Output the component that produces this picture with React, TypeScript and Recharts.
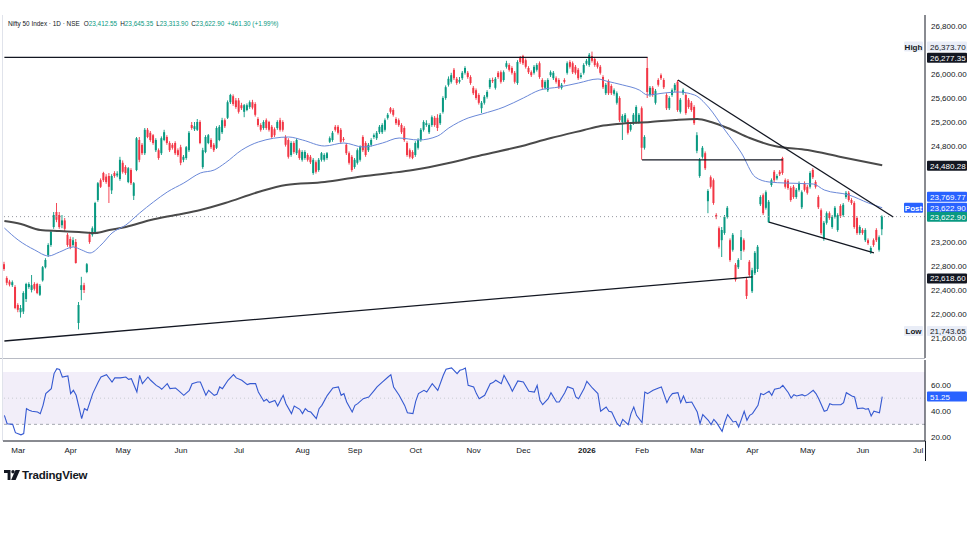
import React from "react";
import {
  ComposedChart,
  Bar,
  Line,
  XAxis,
  YAxis,
  ReferenceLine,
  ReferenceArea,
} from "recharts";

// daily candles [open, high, low, close]
const candles: [number, number, number, number][] = [
  [22830, 22870, 22720, 22750], [22600, 22630, 22480, 22520], [22540, 22570, 22460, 22490], [22480, 22560, 22450, 22530],
  [22450, 22480, 22080, 22100], [22150, 22180, 22030, 22070], [22030, 22150, 21940, 22100], [22040, 22380, 22000, 22350],
  [22250, 22520, 22200, 22500], [22450, 22530, 22420, 22500], [22400, 22650, 22360, 22480], [22500, 22530, 22390, 22420],
  [22500, 22520, 22330, 22350], [22320, 22500, 22300, 22470], [22560, 22800, 22540, 22780], [22780, 22930, 22760, 22900],
  [22980, 23180, 22950, 23150], [23150, 23400, 23120, 23370], [23450, 23700, 23420, 23650], [23700, 23850, 23530, 23570],
  [23650, 23700, 23420, 23450], [23480, 23650, 23430, 23560], [23560, 23600, 23380, 23420], [23320, 23350, 23120, 23150],
  [23250, 23290, 23080, 23120], [23150, 23280, 23120, 23230], [23200, 23250, 22840, 22850], [21850, 22200, 21743.65, 22150],
  [22400, 22620, 22230, 22480], [22480, 22520, 22350, 22400], [22700, 22850, 22680, 22830], [23330, 23370, 23170, 23200],
  [23320, 23460, 23290, 23430], [23350, 23870, 23330, 23850], [23900, 24200, 23870, 24180], [24230, 24260, 24100, 24120],
  [24350, 24370, 24200, 24230], [24290, 24330, 24170, 24200], [24300, 24350, 23850, 24120], [24060, 24330, 24000, 24300],
  [24350, 24380, 24270, 24300], [24310, 24380, 24280, 24340], [24250, 24620, 24220, 24570], [24520, 24560, 24340, 24370],
  [24450, 24480, 24320, 24350], [24200, 24450, 24180, 24430], [24400, 24430, 24150, 24180], [23970, 24200, 23900, 24180],
  [24400, 24950, 24380, 24930], [24900, 24950, 24530, 24570], [24820, 24850, 24650, 24680], [24680, 25100, 24650, 25070],
  [25070, 25100, 24930, 24950], [25020, 25050, 24870, 24900], [24980, 25000, 24820, 24850], [24730, 24930, 24700, 24900],
  [24730, 24760, 24570, 24600], [24680, 24960, 24650, 24930], [24900, 25070, 24880, 25030], [24950, 24980, 24820, 24850],
  [24850, 24880, 24700, 24730], [24820, 24850, 24740, 24770], [24850, 24880, 24650, 24680], [24730, 24760, 24620, 24650],
  [24780, 24820, 24480, 24520], [24570, 24650, 24530, 24620], [24600, 24800, 24570, 24780], [24730, 25050, 24700, 25020],
  [25150, 25200, 25070, 25100], [25080, 25200, 25050, 25130], [25070, 25250, 25050, 25200], [25200, 25230, 24830, 24850],
  [24450, 24770, 24420, 24730], [24700, 24980, 24680, 24950], [24850, 25000, 24830, 24980], [24900, 24930, 24750, 24780],
  [24820, 24850, 24700, 24730], [24770, 25130, 24750, 25100], [24900, 25150, 24880, 25120], [25030, 25270, 25000, 25230],
  [25230, 25260, 25100, 25130], [25270, 25560, 25250, 25530], [25530, 25670, 25500, 25650], [25630, 25660, 25470, 25500],
  [25560, 25600, 25420, 25450], [25560, 25600, 25340, 25370], [25480, 25520, 25400, 25430], [25370, 25500, 25280, 25480],
  [25400, 25510, 25380, 25480], [25450, 25560, 25420, 25530], [25530, 25570, 25410, 25440], [25500, 25530, 25290, 25320],
  [25250, 25280, 25120, 25150], [25150, 25180, 25040, 25070], [25100, 25230, 25070, 25200], [25230, 25260, 25070, 25100],
  [25200, 25220, 25040, 25070], [25120, 25150, 24920, 24950], [25080, 25110, 24950, 24980], [25100, 25230, 25070, 25200],
  [25230, 25270, 25040, 25070], [25200, 25230, 25040, 25070], [24950, 24980, 24790, 24820], [24900, 24930, 24590, 24620],
  [24650, 24880, 24620, 24850], [24850, 24880, 24670, 24700], [24680, 24930, 24650, 24900], [24730, 24760, 24570, 24600],
  [24570, 24730, 24540, 24700], [24600, 24730, 24570, 24700], [24650, 24680, 24540, 24570], [24620, 24650, 24500, 24530],
  [24350, 24600, 24320, 24570], [24530, 24560, 24340, 24370], [24400, 24600, 24370, 24570], [24570, 24700, 24540, 24680],
  [24570, 24680, 24540, 24650], [24600, 24700, 24570, 24680], [24870, 24960, 24850, 24930], [24900, 25050, 24870, 25020],
  [25120, 25150, 25040, 25070], [25120, 25150, 24990, 25020], [25070, 25100, 24840, 24870], [24920, 24950, 24870, 24900],
  [24820, 24850, 24650, 24680], [24680, 24710, 24490, 24520], [24620, 24650, 24370, 24400], [24450, 24600, 24420, 24570],
  [24520, 24760, 24490, 24730], [24570, 24810, 24540, 24780], [24950, 24980, 24700, 24730], [24850, 24880, 24620, 24650],
  [24730, 24850, 24700, 24820], [24820, 24930, 24790, 24900], [24950, 25010, 24920, 24980], [24930, 25050, 24900, 25020],
  [25030, 25150, 25000, 25120], [25030, 25180, 25000, 25150], [25070, 25260, 25040, 25230], [25270, 25350, 25240, 25320],
  [25430, 25450, 25340, 25370], [25400, 25430, 25290, 25320], [25250, 25280, 25150, 25180], [25230, 25260, 25120, 25150],
  [25150, 25180, 25000, 25030], [25100, 25130, 24870, 24900], [24850, 24880, 24620, 24650], [24730, 24760, 24590, 24620],
  [24700, 24730, 24580, 24600], [24650, 24880, 24620, 24850], [24770, 24930, 24740, 24900], [24900, 25100, 24870, 25070],
  [25070, 25230, 25040, 25200], [25150, 25230, 25120, 25180], [25030, 25180, 25000, 25150], [25150, 25310, 25120, 25280],
  [25270, 25300, 25120, 25150], [25270, 25330, 25050, 25100], [25180, 25350, 25150, 25320], [25370, 25630, 25340, 25600],
  [25600, 25810, 25570, 25780], [25820, 25960, 25790, 25920], [25870, 26020, 25840, 25980], [26070, 26100, 25900, 25930],
  [25920, 25950, 25820, 25850], [25870, 25950, 25840, 25900], [25930, 26050, 25900, 26020], [26020, 26130, 25990, 26100],
  [26020, 26050, 25920, 25950], [25950, 25980, 25820, 25850], [25770, 25800, 25650, 25680], [25730, 25760, 25570, 25600],
  [25650, 25680, 25490, 25520], [25430, 25550, 25350, 25520], [25520, 25650, 25490, 25620], [25620, 25730, 25590, 25700],
  [25780, 25930, 25750, 25900], [25900, 25940, 25850, 25880], [25770, 25950, 25740, 25920], [26020, 26050, 25920, 25950],
  [26030, 26060, 25840, 25870], [25900, 26060, 25870, 26030], [26120, 26220, 26090, 26180], [26150, 26180, 26040, 26070],
  [26100, 26130, 25990, 26020], [26020, 26050, 25840, 25870], [25850, 26230, 25820, 26200], [26270, 26300, 26170, 26200],
  [26300, 26320, 26150, 26180], [26230, 26260, 26090, 26120], [26100, 26130, 26000, 26030], [26030, 26060, 25950, 25980],
  [26020, 26150, 25990, 26120], [26070, 26180, 26040, 26150], [26180, 26210, 25920, 25950], [25900, 25930, 25750, 25780],
  [25770, 25900, 25740, 25870], [25730, 25930, 25700, 25900], [25980, 26060, 25950, 26030], [25930, 26050, 25900, 26020],
  [25930, 25960, 25840, 25870], [25900, 25930, 25750, 25780], [25770, 25850, 25740, 25820], [25900, 25930, 25840, 25870],
  [26020, 26210, 25990, 26180], [26200, 26230, 26090, 26120], [26180, 26210, 26000, 26030], [26120, 26150, 25990, 26020],
  [26070, 26100, 25900, 25930], [25950, 26020, 25920, 25980], [26020, 26180, 25990, 26150], [26170, 26250, 26140, 26220],
  [26150, 26350, 26120, 26320], [26300, 26373.7, 26190, 26220], [26250, 26280, 26120, 26150], [26180, 26210, 26090, 26120],
  [26120, 26150, 25990, 26020], [25950, 25980, 25750, 25780], [25680, 25850, 25650, 25820], [25880, 25910, 25650, 25680],
  [25800, 25830, 25650, 25680], [25670, 25760, 25640, 25730], [25520, 25710, 25490, 25680], [25600, 25630, 25200, 25230],
  [25200, 25330, 24900, 25300], [25200, 25350, 25170, 25320], [25230, 25260, 24990, 25020], [25070, 25180, 25040, 25150],
  [25180, 25350, 25150, 25320], [25200, 25480, 25170, 25450], [25200, 25350, 25170, 25320], [25430, 25460, 24570, 24770],
  [24770, 24980, 24740, 24950], [26100, 26277.35, 25600, 25700], [25650, 25800, 25620, 25770], [25770, 25800, 25620, 25650],
  [25520, 25750, 25490, 25720], [25900, 25930, 25790, 25820], [25980, 26010, 25900, 25930], [25900, 25930, 25750, 25780],
  [25650, 25680, 25400, 25430], [25430, 25630, 25400, 25600], [25650, 25760, 25620, 25730], [25730, 25850, 25700, 25820],
  [25870, 25900, 25370, 25400], [25370, 25600, 25340, 25570], [25680, 25760, 25650, 25730], [25650, 25680, 25320, 25350],
  [25570, 25600, 25420, 25450], [25520, 25550, 25370, 25400], [25450, 25480, 25150, 25180], [24720, 25030, 24680, 24980],
  [24300, 24600, 24270, 24570], [24620, 24800, 24590, 24770], [24680, 24710, 24400, 24430], [23880, 24080, 23680, 24050],
  [24280, 24310, 24090, 24120], [24230, 24260, 23820, 23850], [23650, 23680, 23580, 23620], [23430, 23460, 23090, 23120],
  [23230, 23450, 22950, 23400], [23350, 23650, 23320, 23620], [23620, 23800, 23590, 23770], [23230, 23260, 22870, 22900],
  [23070, 23350, 23040, 23320], [22820, 22850, 22540, 22570], [22780, 22930, 22750, 22900], [23050, 23400, 22900, 23280],
  [23230, 23260, 23040, 23070], [22570, 22600, 22250, 22300], [22870, 22900, 22620, 22650], [22380, 22770, 22350, 22730],
  [22680, 23050, 22650, 23020], [22750, 23150, 22700, 23120], [23830, 23980, 23800, 23950], [23980, 24010, 23650, 23680],
  [23770, 24060, 23740, 24030], [23530, 23900, 23520, 23870], [24150, 24260, 24120, 24230], [24370, 24400, 24200, 24230],
  [24260, 24330, 24230, 24300], [24370, 24400, 24300, 24330], [24600, 24620, 24320, 24350], [24230, 24260, 24090, 24120],
  [24220, 24250, 24070, 24100], [24100, 24130, 23870, 23900], [24120, 24150, 23920, 23950], [23950, 24100, 23920, 24070],
  [24070, 24210, 24040, 24180], [23780, 24060, 23750, 24030], [24180, 24210, 24040, 24070], [24120, 24150, 23990, 24020],
  [24120, 24380, 24090, 24350], [24400, 24430, 24250, 24280], [24200, 24230, 24090, 24120], [23950, 23980, 23750, 23780],
  [23730, 23760, 23320, 23350], [23250, 23550, 23220, 23520], [23520, 23710, 23490, 23680], [23680, 23710, 23570, 23600],
  [23450, 23650, 23420, 23620], [23620, 23800, 23590, 23770], [23400, 23680, 23370, 23650], [23800, 23830, 23600, 23630],
  [23650, 23850, 23620, 23820], [23950, 24050, 23920, 24020], [24020, 24050, 23870, 23900], [23900, 23930, 23820, 23850],
  [23850, 23880, 23420, 23450], [23600, 23630, 23320, 23350], [23350, 23480, 23320, 23450], [23400, 23430, 23320, 23350],
  [23230, 23430, 23200, 23400], [23230, 23260, 23150, 23180], [23030, 23130, 23000, 23100], [23230, 23260, 23120, 23150],
  [23400, 23430, 23200, 23230], [23070, 23310, 23040, 23280], [23412.55, 23645.35, 23313.9, 23622.9],
];

// moving averages, [candle index, value]
const sma50Pts: [number, number][] = [
  [0, 23433], [5, 23233], [11, 23067], [16, 22967], [20, 23033], [25, 23117], [28, 23067], [31, 23017],
  [35, 23150], [39, 23350], [44, 23483], [49, 23683], [54, 23867], [59, 24033], [65, 24183], [71, 24350],
  [76, 24400], [80, 24517], [86, 24733], [92, 24867], [103, 24950], [108, 24900], [116, 24800], [123, 24850],
  [130, 24783], [137, 24850], [143, 24933], [150, 24900], [157, 24967], [161, 25100], [168, 25267], [173, 25333],
  [181, 25450], [188, 25600], [194, 25733], [201, 25783], [208, 25850], [215, 25917], [218, 25883], [224, 25817],
  [230, 25733], [233, 25650], [239, 25683], [244, 25700], [250, 25650], [255, 25450], [261, 25067], [267, 24683],
  [272, 24283], [277, 24200], [283, 24183], [293, 24167], [297, 24067], [306, 23983], [313, 23850], [318, 23769.77],
];

const sma200Pts: [number, number][] = [
  [0, 23550], [6, 23500], [13, 23400], [20, 23383], [27, 23367], [33, 23350], [38, 23400], [44, 23450],
  [53, 23567], [62, 23650], [71, 23733], [80, 23850], [92, 24033], [102, 24150], [116, 24200], [128, 24283],
  [140, 24350], [148, 24400], [161, 24517], [173, 24650], [186, 24783], [198, 24933], [210, 25067], [216, 25133],
  [222, 25167], [234, 25200], [243, 25233], [251, 25250], [256, 25200], [262, 25100], [270, 24933], [279, 24800],
  [291, 24733], [303, 24617], [318, 24480.28],
];

// RSI(14), [candle index, value]
const rsiPts: [number, number][] = [
  [0, 36.9], [1, 30.5], [3, 30], [4, 23.6], [6, 22], [7, 22.9], [8, 42], [9, 40.7], [10, 40], [12, 39.4],
  [13, 38.2], [14, 44.5], [15, 53.5], [17, 57.3], [18, 68.8], [19, 72.6], [20, 72], [21, 66.2], [23, 67], [24, 53.5],
  [25, 56], [26, 52.2], [28, 34.3], [29, 42], [30, 40.7], [32, 53.5], [34, 62.4], [35, 66.2], [37, 68], [39, 62.4],
  [40, 65.5], [42, 65.5], [44, 66.2], [45, 64.4], [46, 64.9], [48, 54.7], [49, 67.5], [50, 61.1], [52, 66.2], [53, 63.7],
  [55, 59.8], [56, 58.6], [57, 56.8], [59, 61.1], [60, 57.3], [62, 57.8], [63, 56], [65, 52.2], [67, 56], [68, 61.1],
  [70, 62.4], [71, 62.4], [73, 52.2], [74, 56], [76, 52.2], [77, 53], [78, 58.6], [79, 57.3], [81, 63.7], [83, 68],
  [84, 65.5], [86, 63.7], [88, 60.4], [89, 61.1], [91, 61.1], [92, 54.7], [94, 47.6], [95, 49.1], [96, 46.6], [98, 48.3],
  [99, 44], [100, 48.3], [101, 52.2], [102, 45.8], [104, 38.2], [105, 44], [107, 41.5], [108, 38.2], [109, 42], [110, 40],
  [111, 39.4], [113, 34.3], [114, 42], [115, 44.5], [117, 52.2], [119, 57.8], [121, 58.6], [122, 52.2], [123, 53.5], [124, 47.1],
  [126, 39.4], [127, 44.5], [128, 45.8], [130, 49.6], [132, 50.9], [134, 56], [135, 58.6], [137, 62.4], [139, 66.2], [140, 68],
  [141, 58.6], [143, 52.2], [145, 44.5], [146, 38.9], [148, 38.2], [149, 47.6], [150, 53.5], [152, 56], [153, 54.7], [155, 61.1],
  [157, 56], [159, 67.5], [160, 72.1], [162, 73.1], [164, 68.8], [165, 71.3], [166, 72], [167, 73.1], [168, 59.8], [170, 58.6],
  [171, 53.5], [172, 49.6], [174, 52.2], [176, 61.1], [177, 61.9], [178, 63.7], [180, 61.1], [181, 67.5], [183, 59.8], [184, 55.3],
  [186, 63.2], [188, 62.4], [190, 55.3], [192, 54.7], [193, 59.8], [194, 48.3], [195, 45], [197, 49.6], [198, 54.2], [200, 47.1],
  [201, 47.1], [203, 54.2], [204, 58.8], [206, 57.3], [207, 50.9], [208, 49.6], [210, 57.3], [211, 62.9], [213, 57.8], [215, 53.5],
  [216, 40], [218, 43.2], [219, 40], [220, 39.4], [222, 30.5], [223, 28.5], [224, 33.8], [226, 29.8], [227, 38.2], [228, 43.2],
  [229, 36.9], [231, 31.3], [232, 54.7], [233, 53.5], [235, 56], [237, 57.8], [238, 58.6], [240, 46.6], [241, 50.9], [242, 53.5],
  [244, 54.2], [245, 46.6], [246, 51.7], [247, 46.6], [249, 47.1], [251, 39.4], [252, 30.5], [253, 37.4], [255, 33.1], [256, 29.8],
  [257, 33.8], [258, 31.3], [260, 24.6], [261, 31.8], [262, 37.4], [264, 31.8], [265, 32.3], [266, 27.9], [268, 40], [269, 33.1],
  [270, 36.9], [271, 38.2], [273, 44.5], [274, 53.5], [275, 52.7], [277, 55.3], [278, 52.2], [279, 56.8], [281, 57.8], [282, 59.8],
  [284, 54.2], [285, 50.1], [286, 52.7], [287, 51.7], [289, 52.7], [290, 51.7], [291, 52.7], [293, 56], [294, 53.5], [295, 49.6],
  [297, 40], [298, 40.7], [299, 45.8], [300, 45], [303, 45], [304, 46.6], [305, 54.2], [307, 51.7], [308, 50.9], [309, 42],
  [311, 42.5], [312, 41.5], [313, 42], [314, 36.4], [315, 40], [317, 38.9], [318, 51.25],
];

// drawn lines: [fromIndex, fromPrice, toIndex, toPrice]
const trendLines: [number, number, number, number][] = [
  [0, 26277.35, 233, 26277.35],
  [0, 21550, 271, 22618.6],
  [231, 24570, 282, 24570],
  [244, 25900, 322, 23617],
  [277, 23530, 315, 23017],
];

const monthLabels = ["Mar", "Apr", "May", "Jun", "Jul", "Aug", "Sep", "Oct", "Nov", "Dec", "2026", "Feb", "Mar", "Apr", "May", "Jun", "Jul"];
const monthIdx = [5, 24, 43, 64, 85, 108, 127, 149, 170, 188, 211, 231, 251, 271, 291, 311, 331];

const priceTicks = [21600, 22000, 22400, 22800, 23200, 24800, 25200, 25600, 26000, 26800];
const rsiTicks = [20, 40, 60];

const lastPrice = 23622.9;
const lastRsi = 51.25;

type Badge = { value: number; bg: string; fg: string; tag?: string; tagBg?: string; tagFg?: string; dy: number };
const priceBadges: Badge[] = [
  { value: 26373.7, bg: "#e9edf7", fg: "#131722", tag: "High", tagBg: "#e9edf7", tagFg: "#131722", dy: -5 },
  { value: 26277.35, bg: "#131722", fg: "#ffffff", dy: 0.5 },
  { value: 24480.28, bg: "#131722", fg: "#ffffff", dy: 0.5 },
  { value: 23769.77, bg: "#2962ff", fg: "#ffffff", dy: -11 },
  { value: 23622.9, bg: "#2962ff", fg: "#ffffff", tag: "Post", tagBg: "#2962ff", tagFg: "#ffffff", dy: -9 },
  { value: 23622.9, bg: "#089981", fg: "#ffffff", dy: 0 },
  { value: 22618.6, bg: "#131722", fg: "#ffffff", dy: 1.5 },
  { value: 21743.65, bg: "#e9edf7", fg: "#131722", tag: "Low", tagBg: "#e9edf7", tagFg: "#131722", dy: 1.5 },
];

const UP = "#089981";
const DOWN = "#f23645";
const FONT = "'Liberation Sans', Arial, sans-serif";
const SLOTS = 334;

const toMap = (pts: [number, number][]) => new Map(pts.map(([i, v]) => [i, v]));
const sma50Map = toMap(sma50Pts);
const sma200Map = toMap(sma200Pts);
const rsiMap = toMap(rsiPts);

const rows = Array.from({ length: SLOTS }, (_, i) => {
  const k = candles[i];
  return {
    i,
    range: k ? [k[2], k[1]] : null,
    o: k ? k[0] : null,
    h: k ? k[1] : null,
    l: k ? k[2] : null,
    c: k ? k[3] : null,
    sma50: sma50Map.has(i) ? sma50Map.get(i) : null,
    sma200: sma200Map.has(i) ? sma200Map.get(i) : null,
    rsi: rsiMap.has(i) ? rsiMap.get(i) : null,
  };
});

const fmt2 = (v: number) =>
  v.toLocaleString("en-US", { minimumFractionDigits: 2, maximumFractionDigits: 2 });

const Candle = (props: any) => {
  const { x, y, width, height, payload } = props;
  if (!payload || payload.o == null) return null;
  const { o, h, l, c } = payload;
  const top = Math.min(y, y + height);
  const span = Math.abs(height);
  const at = (v: number) => top + ((h - v) / (h - l || 1)) * span;
  const color = c >= o ? UP : DOWN;
  const cx = x + width / 2;
  const bTop = at(Math.max(o, c));
  const bH = Math.max(1, at(Math.min(o, c)) - bTop);
  return (
    <g>
      <rect x={cx - 0.45} y={top} width={0.9} height={span} fill={color} />
      <rect x={cx - 1} y={bTop} width={2} height={bH} fill={color} />
    </g>
  );
};

const PriceTick = (p: any) => (
  <text x={p.x} y={p.y} dy={3} fontSize={8} fill="#131722" textAnchor="start" fontFamily={FONT}>
    {fmt2(p.payload.value)}
  </text>
);

const MonthTick = (p: any) => {
  const label = monthLabels[monthIdx.indexOf(p.payload.value)];
  return (
    <text x={p.x} y={p.y} dy={12} fontSize={8} fill="#131722" textAnchor="middle" fontFamily={FONT}
      fontWeight={label === "2026" ? 700 : 400}>
      {label}
    </text>
  );
};

const BadgeLabel = ({ viewBox, b }: any) => {
  if (!viewBox) return null;
  const right = viewBox.x + viewBox.width;
  const cy = viewBox.y + b.dy;
  return (
    <g fontFamily={FONT} fontSize={8}>
      {b.tag && (
        <g>
          <rect x={right - 21} y={cy - 5} width={19} height={10} fill={b.tagBg} rx={1} />
          <text x={right - 11.5} y={cy} dy={3} textAnchor="middle" fill={b.tagFg} fontWeight={700}>
            {b.tag}
          </text>
        </g>
      )}
      <rect x={right + 2} y={cy - 5} width={40} height={10} fill={b.bg} rx={1} />
      <text x={right + 5} y={cy} dy={3} fill={b.fg}>
        {fmt2(b.value)}
      </text>
    </g>
  );
};

const Logo = () => (
  <svg width={16} height={11} viewBox="0 0 16 11">
    <path d="M0 0h6.5v10H3.6V3H0z" fill="#131722" />
    <circle cx={9} cy={1.7} r={1.7} fill="#131722" />
    <path d="M11.5 0H16l-4.4 10H7.1z" fill="#131722" />
  </svg>
);

export default function App() {
  return (
    <div style={{ position: "absolute", left: 0, top: 0, width: 974, height: 548, background: "#ffffff", fontFamily: FONT, overflow: "hidden" }}>
      <div style={{ position: "absolute", left: 0, top: 0 }}>
        <ComposedChart width={974} height={358} data={rows} margin={{ top: 15, right: 0, bottom: 0, left: 3 }}>
          <XAxis dataKey="i" type="category" scale="band" hide />
          <YAxis
            orientation="right"
            width={49}
            type="number"
            domain={[21266.7, 26983.3]}
            allowDataOverflow
            ticks={priceTicks}
            interval={0}
            tick={PriceTick}
            tickLine={false}
            tickSize={0}
            tickMargin={6}
            axisLine={{ stroke: "#131722" }}
          />
          <ReferenceLine y={lastPrice} stroke="#9598a1" strokeDasharray="1 3" />
          <Bar dataKey="range" barSize={2} shape={Candle} isAnimationActive={false} />
          <Line dataKey="sma200" type="monotone" stroke="#4a4a4a" strokeWidth={2} dot={false} connectNulls isAnimationActive={false} />
          <Line dataKey="sma50" type="monotone" stroke="#6a88d8" strokeWidth={1} dot={false} connectNulls isAnimationActive={false} />
          {trendLines.map(([x1, y1, x2, y2], k) => (
            <ReferenceLine
              key={"t" + k}
              segment={[{ x: x1, y: y1 }, { x: x2, y: y2 }]}
              stroke="#131722"
              strokeWidth={1.3}
            />
          ))}
          {priceBadges.map((b, k) => (
            <ReferenceLine key={"b" + k} y={b.value} stroke="none" label={<BadgeLabel b={b} />} />
          ))}
        </ComposedChart>
      </div>

      <div style={{ position: "absolute", left: 0, top: 358, width: 925, height: 1, background: "#b8bbc4" }} />

      <div style={{ position: "absolute", left: 0, top: 358 }}>
        <ComposedChart width={974} height={103} data={rows} margin={{ top: 2, right: 0, bottom: 0, left: 3 }}>
          <XAxis
            dataKey="i"
            type="category"
            scale="band"
            height={20}
            ticks={monthIdx}
            interval={0}
            tick={MonthTick}
            tickLine={false}
            tickSize={0}
            tickMargin={0}
            axisLine={{ stroke: "#131722" }}
          />
          <YAxis
            orientation="right"
            width={49}
            type="number"
            domain={[17.25, 79.2]}
            allowDataOverflow
            ticks={rsiTicks}
            interval={0}
            tick={(p: any) => (
              <text x={p.x} y={p.y} dy={3} fontSize={8} fill="#131722" fontFamily={FONT}>
                {p.payload.value.toFixed(2)}
              </text>
            )}
            tickLine={false}
            tickSize={0}
            tickMargin={6}
            axisLine={{ stroke: "#131722" }}
          />
          <ReferenceArea y1={30} y2={70} fill="#7e57c2" fillOpacity={0.1} stroke="none" />
          <ReferenceLine y={50} stroke="#c9cbd2" strokeDasharray="1 3" />
          <ReferenceLine y={30} stroke="#a3a6af" strokeDasharray="3 3" />
          <Line dataKey="rsi" type="linear" stroke="#3559d1" strokeWidth={1.1} dot={false} connectNulls isAnimationActive={false} />
          <ReferenceLine y={lastRsi} stroke="none" label={<BadgeLabel b={{ value: lastRsi, bg: "#2962ff", fg: "#ffffff", dy: 0 }} />} />
        </ComposedChart>
      </div>

      <div style={{ position: "absolute", left: 925, top: 441, width: 1, height: 20, background: "#131722" }} />
      <div style={{ position: "absolute", left: 2, top: 15, width: 1, height: 426, background: "#e0e3eb" }} />

      <div style={{ position: "absolute", left: 8, top: 20, fontSize: 6.4, color: "#131722", whiteSpace: "nowrap" }}>
        <span>Nifty 50 Index · 1D · NSE</span>
        <span style={{ marginLeft: 4 }}>O</span><span style={{ color: UP }}>23,412.55</span>
        <span style={{ marginLeft: 3 }}>H</span><span style={{ color: UP }}>23,645.35</span>
        <span style={{ marginLeft: 3 }}>L</span><span style={{ color: UP }}>23,313.90</span>
        <span style={{ marginLeft: 3 }}>C</span><span style={{ color: UP }}>23,622.90</span>
        <span style={{ marginLeft: 3, color: UP }}>+461.30 (+1.99%)</span>
      </div>

      <div style={{ position: "absolute", left: 4, top: 469, display: "flex", alignItems: "center", gap: 2 }}>
        <Logo />
        <span style={{ fontSize: 11.5, fontWeight: 700, color: "#131722", letterSpacing: -0.2 }}>TradingView</span>
      </div>
    </div>
  );
}
